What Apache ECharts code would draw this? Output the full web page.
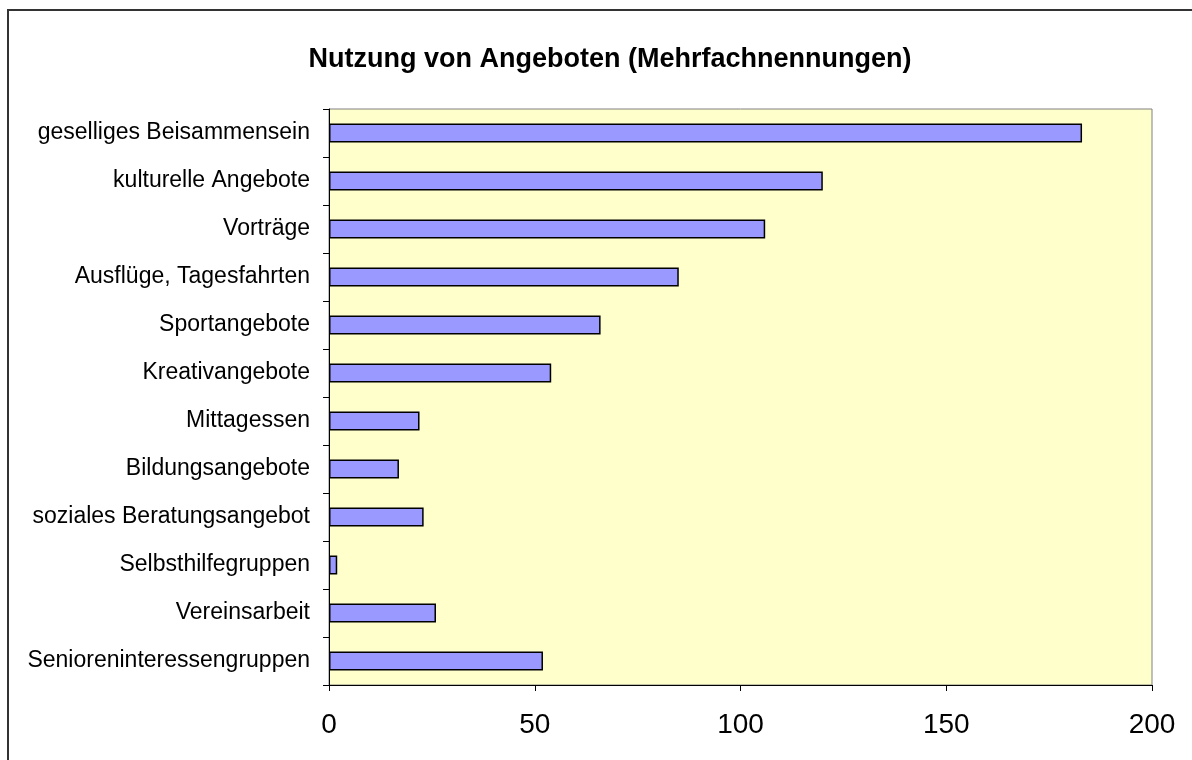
<!DOCTYPE html>
<html>
<head>
<meta charset="utf-8">
<script src="https://cdn.jsdelivr.net/npm/echarts@6/dist/echarts.min.js"></script>
<style>
  html, body { margin: 0; padding: 0; background: #ffffff; }
  #chart { width: 1192px; height: 760px; }
</style>
</head>
<body>
<div id="chart"></div>
<script>
// Kategorien von unten nach oben (ECharts zeichnet category-y von unten)
const categories = [
  'Senioreninteressengruppen',
  'Vereinsarbeit',
  'Selbsthilfegruppen',
  'soziales Beratungsangebot',
  'Bildungsangebote',
  'Mittagessen',
  'Kreativangebote',
  'Sportangebote',
  'Ausflüge, Tagesfahrten',
  'Vorträge',
  'kulturelle Angebote',
  'geselliges Beisammensein'
];
const nennungen = [52, 26, 2, 23, 17, 22, 54, 66, 85, 106, 120, 183];
const xTicks = [0, 50, 100, 150, 200];

const chart = echarts.init(document.getElementById('chart'));

const option = {
  animation: false,
  title: {
    text: 'Nutzung von Angeboten (Mehrfachnennungen)',
    left: 605,
    top: 41,
    textAlign: 'center',
    textStyle: {
      fontFamily: 'Liberation Sans, Arial, sans-serif',
      fontWeight: 'bold',
      fontSize: 27,
      color: '#000'
    }
  },
  // äußerer Rahmen
  graphic: [{
    type: 'rect',
    shape: { x: 8, y: 10, width: 1200, height: 800 },
    style: { fill: 'none', stroke: '#333', lineWidth: 2 },
    silent: true
  }],
  grid: {
    left: 329,
    right: 40,
    top: 109,
    bottom: 75,
    show: true,
    backgroundColor: '#FFFFCC',
    borderColor: '#808080',
    borderWidth: 1
  },
  xAxis: {
    type: 'value',
    min: xTicks[0],
    max: xTicks[xTicks.length - 1],
    interval: 50,
    axisLine: { show: true, lineStyle: { color: '#000', width: 1 } },
    axisTick: { show: true, length: 6, lineStyle: { color: '#000' } },
    splitLine: { show: false },
    axisLabel: {
      margin: 26,
      fontFamily: 'Liberation Sans, Arial, sans-serif',
      fontSize: 28,
      color: '#000'
    }
  },
  yAxis: {
    type: 'category',
    data: categories,
    axisLine: { show: true, lineStyle: { color: '#000', width: 1 } },
    axisTick: { show: true, length: 6, lineStyle: { color: '#000' } },
    axisLabel: {
      margin: 19,
      fontFamily: 'Liberation Sans, Arial, sans-serif',
      fontSize: 23,
      color: '#000'
    }
  },
  series: [{
    type: 'bar',
    data: nennungen,
    barWidth: 19,
    itemStyle: {
      color: '#9999FF',
      borderColor: '#000',
      borderWidth: 1.5
    }
  }]
};

chart.setOption(option);
</script>
</body>
</html>
